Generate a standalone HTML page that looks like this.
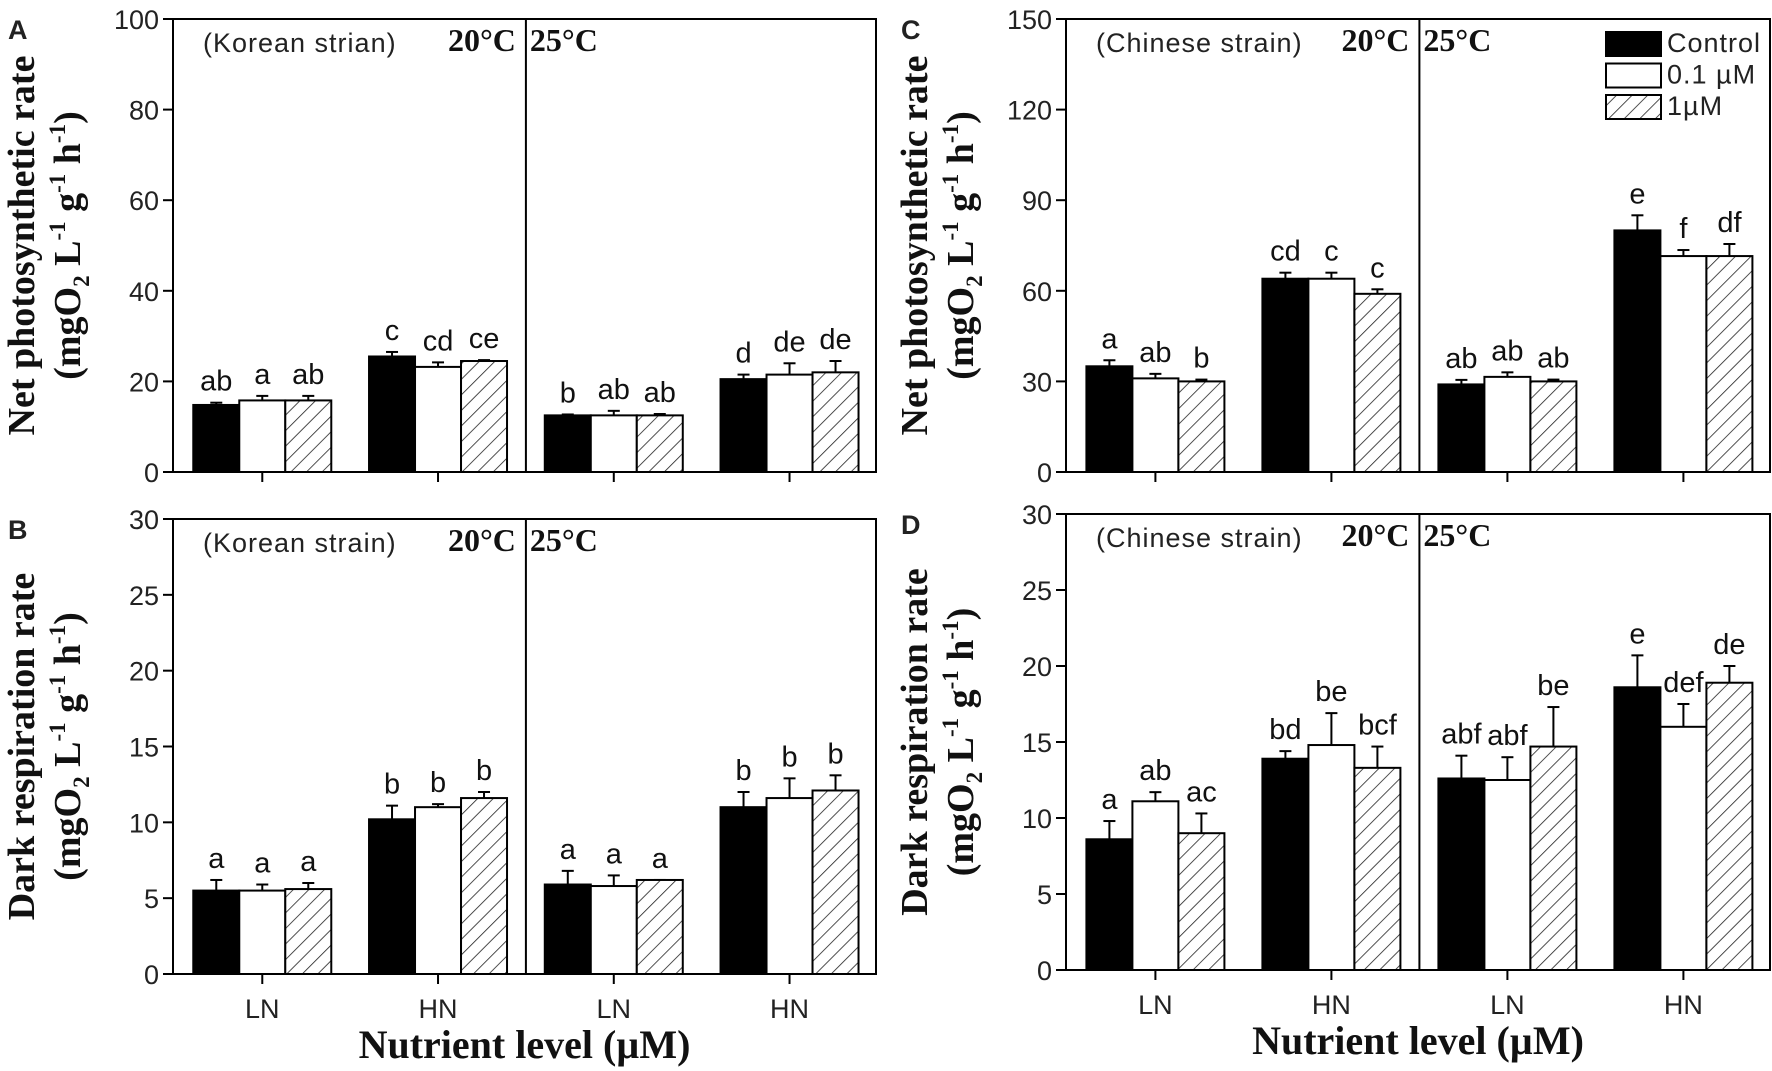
<!DOCTYPE html>
<html><head><meta charset="utf-8">
<style>
body{margin:0;background:#fff;}
svg{display:block;}
.tk{font-family:"Liberation Sans",Arial,sans-serif;font-size:27px;fill:#222;}
.lt{font-family:"Liberation Sans",Arial,sans-serif;font-size:29px;fill:#111;}
.tm{font-family:"Liberation Serif","Times New Roman",serif;font-weight:bold;fill:#111;}
</style></head>
<body>
<svg id="chart" width="1772" height="1071" viewBox="0 0 1772 1071" xmlns="http://www.w3.org/2000/svg">
<defs>
<pattern id="hatch" patternUnits="userSpaceOnUse" width="11" height="11" patternTransform="rotate(45)">
<rect width="11" height="11" fill="#fff"/>
<line x1="0" y1="0" x2="0" y2="11" stroke="#222" stroke-width="1.6"/>
</pattern>
</defs>
</svg>
<script>
// ---- data ----
const groupLabels = ["LN","HN","LN","HN"];
const seriesNames = ["Control","0.1 µM","1µM"];
const aVals = [[14.8,15.8,15.8],[25.5,23.2,24.5],[12.5,12.5,12.5],[20.5,21.5,22]];
const aErr  = [[0.5,1,1],[1,1,0.2],[0.2,1,0.3],[1,2.5,2.5]];
const aLet  = [["ab","a","ab"],["c","cd","ce"],["b","ab","ab"],["d","de","de"]];
const bVals = [[5.5,5.5,5.6],[10.2,11.0,11.6],[5.9,5.8,6.2],[11.0,11.6,12.1]];
const bErr  = [[0.7,0.4,0.4],[0.9,0.2,0.4],[0.9,0.7,0],[1.0,1.3,1.0]];
const bLet  = [["a","a","a"],["b","b","b"],["a","a","a"],["b","b","b"]];
const cVals = [[35,31,30],[64,64,59],[29,31.5,30],[80,71.5,71.5]];
const cErr  = [[2,1.5,0.6],[2,2,1.5],[1.5,1.5,0.6],[5,2,4]];
const cLet  = [["a","ab","b"],["cd","c","c"],["ab","ab","ab"],["e","f","df"]];
const dVals = [[8.6,11.1,9.0],[13.9,14.8,13.3],[12.6,12.5,14.7],[18.6,16.0,18.9]];
const dErr  = [[1.2,0.6,1.3],[0.5,2.1,1.4],[1.5,1.5,2.6],[2.1,1.5,1.1]];
const dLet  = [["a","ab","ac"],["bd","be","bcf"],["abf","abf","be"],["e","def","de"]];
const aTicks = [0,20,40,60,80,100];
const bTicks = [0,5,10,15,20,25,30];
const cTicks = [0,30,60,90,120,150];
const dTicks = [0,5,10,15,20,25,30];

const NS="http://www.w3.org/2000/svg";
const svg=document.getElementById('chart');
function mk(tag,attrs,parent,text){const e=document.createElementNS(NS,tag);for(const k in attrs)e.setAttribute(k,attrs[k]);if(text!==undefined)e.textContent=text;(parent||svg).appendChild(e);return e;}

const fills=["#000","#fff","url(#hatch)"];

function panel(id,x0,x1,y0,y1,ticks,vals,errs,lets,strain,letter,title,showX,showLegend){
  const g=mk('g',{});
  
  
  const ymax=ticks[ticks.length-1];
  const Y=v=>y1-(v/ymax)*(y1-y0);
  const W=x1-x0;
  const gc=i=>x0+W*(0.127+i*0.25);
  const bw=46;
  vals.forEach((grp,i)=>{grp.forEach((v,j)=>{
    const bx=gc(i)+(j-1.5)*bw;
    const e=errs[i][j];
    const el=mk('line',{x1:bx+bw/2,x2:bx+bw/2,y1:Y(v),y2:Y(v+e),stroke:'#000','stroke-width':2},g);
    
    
    const cap=mk('line',{x1:bx+bw/2-6,x2:bx+bw/2+6,y1:Y(v+e),y2:Y(v+e),stroke:'#000','stroke-width':2},g);
    
    
    const r=mk('rect',{x:bx,y:Y(v),width:bw,height:Y(0)-Y(v),fill:fills[j],stroke:'#000','stroke-width':2},g);
    
    
    const t=mk('text',{x:bx+bw/2,y:Y(v+e)-12,'text-anchor':'middle',class:'lt'},g,lets[i][j]);
    
    
  });});
  const f=mk('rect',{x:x0,y:y0,width:W,height:y1-y0,fill:'none',stroke:'#000','stroke-width':2},g);
  
  
  const dv=(gc(1)+gc(2))/2;
  const dl=mk('line',{x1:dv,x2:dv,y1:y0,y2:y1,stroke:'#000','stroke-width':2},g);
  
  
  ticks.forEach(t=>{
    mk('line',{x1:x0-10,x2:x0,y1:Y(t),y2:Y(t),stroke:'#000','stroke-width':2},g);
    const tl=mk('text',{x:x0-14,y:Y(t)+10,'text-anchor':'end',class:'tk'},g,t);
    
    
  });
  groupLabels.forEach((l,i)=>{
    mk('line',{x1:gc(i),x2:gc(i),y1:y1,y2:y1+10,stroke:'#000','stroke-width':2},g);
    if(showX){const xl=mk('text',{x:gc(i),y:y1+44,'text-anchor':'middle',class:'tk','font-size':'31'},g,l);
      
      }
  });
  const st=mk('text',{x:x0+30,y:y0+33,class:'tk','font-size':'21','letter-spacing':'1'},g,strain);
  
  
  const t20=mk('text',{x:dv-10,y:y0+32,'text-anchor':'end',class:'tm','font-size':'32'},g,'20°C');
  
  
  const t25=mk('text',{x:dv+4,y:y0+32,class:'tm','font-size':'32'},g,'25°C');
  
  
  const pl=mk('text',{x:x0-165,y:y0+20,class:'tk','font-weight':'bold','font-size':'27'},g,letter);
  
  
  const cy=(y0+y1)/2;
  const yt=mk('text',{x:0,y:0,'text-anchor':'middle',class:'tm','font-size':'38',transform:`translate(${x0-139},${cy}) rotate(-90)`},g,title);
  
  
  const yu=mk('text',{x:0,y:0,'text-anchor':'middle',class:'tm','font-size':'38',transform:`translate(${x0-93},${cy}) rotate(-90)`},g);
  
  
  yu.innerHTML='(mgO<tspan font-size="23" dy="9">2</tspan><tspan dy="-9"> L</tspan><tspan font-size="23" dy="-15">-1</tspan><tspan dy="15"> g</tspan><tspan font-size="23" dy="-15">-1</tspan><tspan dy="15"> h</tspan><tspan font-size="23" dy="-15">-1</tspan><tspan dy="15">)</tspan>';
  if(showX){
    const xt=mk('text',{x:(x0+x1)/2,y:y1+84,'text-anchor':'middle',class:'tm','font-size':'40'},g,'Nutrient level (µM)');
    
    
  }
  if(showLegend){
    seriesNames.forEach((n,j)=>{
      const ly=y0+13+j*31.5;
      const lr=mk('rect',{x:1606,y:ly,width:55,height:24,fill:fills[j],stroke:'#000','stroke-width':2},g);
      
      
      const lt=mk('text',{x:1667,y:ly+20,class:'tk','font-size':'20','letter-spacing':'1'},g,n);
      
      
    });
  }
}
panel('a',173,876,19,472,aTicks,aVals,aErr,aLet,'(Korean strian)','A','Net photosynthetic rate',false,false);
panel('b',173,876,519,974,bTicks,bVals,bErr,bLet,'(Korean strain)','B','Dark respiration rate',true,false);
panel('c',1066,1770,19,472,cTicks,cVals,cErr,cLet,'(Chinese strain)','C','Net photosynthetic rate',false,true);
panel('d',1066,1770,514,970,dTicks,dVals,dErr,dLet,'(Chinese strain)','D','Dark respiration rate',true,false);
</script>
</body></html>
